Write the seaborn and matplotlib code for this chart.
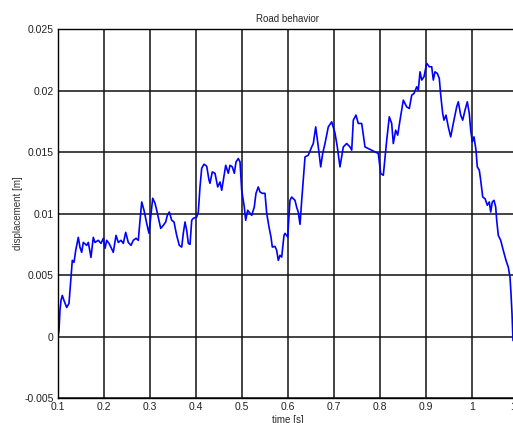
import numpy as np
import pandas as pd
import matplotlib
matplotlib.use("Agg")
import matplotlib.pyplot as plt
import matplotlib.ticker as mticker
import seaborn as sns

# values
time_s = [0.1000, 0.1022, 0.1043, 0.1065, 0.1093, 0.1130, 0.1189, 0.1239, 0.1283, 0.1311,
          0.1348, 0.1385, 0.1441, 0.1478, 0.1515, 0.1550, 0.1624, 0.1659, 0.1717, 0.1767,
          0.1804, 0.1876, 0.1935, 0.1985, 0.2022, 0.2059, 0.2109, 0.2152, 0.2202, 0.2261,
          0.2311, 0.2370, 0.2420, 0.2472, 0.2528, 0.2587, 0.2637, 0.2696, 0.2746, 0.2783,
          0.2820, 0.2870, 0.2928, 0.2978, 0.3015, 0.3059, 0.3109, 0.3146, 0.3202, 0.3233,
          0.3289, 0.3341, 0.3376, 0.3420, 0.3472, 0.3522, 0.3580, 0.3637, 0.3689, 0.3724,
          0.3761, 0.3798, 0.3833, 0.3870, 0.3907, 0.3941, 0.4015, 0.4050, 0.4087, 0.4124,
          0.4174, 0.4233, 0.4283, 0.4304, 0.4354, 0.4413, 0.4472, 0.4522, 0.4559, 0.4593,
          0.4646, 0.4702, 0.4739, 0.4789, 0.4833, 0.4870, 0.4920, 0.4957, 0.4993, 0.5050,
          0.5080, 0.5124, 0.5174, 0.5211, 0.5267, 0.5304, 0.5354, 0.5391, 0.5441, 0.5500,
          0.5537, 0.5587, 0.5630, 0.5659, 0.5717, 0.5754, 0.5789, 0.5826, 0.5863, 0.5913,
          0.5935, 0.5993, 0.6043, 0.6080, 0.6152, 0.6189, 0.6224, 0.6261, 0.6298, 0.6370,
          0.6441, 0.6515, 0.6550, 0.6602, 0.6659, 0.6711, 0.6754, 0.6804, 0.6876, 0.6950,
          0.7022, 0.7072, 0.7130, 0.7202, 0.7276, 0.7348, 0.7385, 0.7420, 0.7478, 0.7528,
          0.7602, 0.7674, 0.7746, 0.7820, 0.7891, 0.7963, 0.8015, 0.8072, 0.8146, 0.8202,
          0.8254, 0.8289, 0.8341, 0.8385, 0.8435, 0.8507, 0.8580, 0.8637, 0.8689, 0.8739,
          0.8798, 0.8833, 0.8870, 0.8907, 0.8957, 0.9015, 0.9072, 0.9124, 0.9159, 0.9196,
          0.9246, 0.9289, 0.9320, 0.9363, 0.9391, 0.9435, 0.9485, 0.9537, 0.9593, 0.9667,
          0.9702, 0.9754, 0.9798, 0.9848, 0.9898, 0.9941, 0.9972, 1.0007, 1.0043, 1.0087,
          1.0115, 1.0159, 1.0189, 1.0233, 1.0283, 1.0333, 1.0376, 1.0407, 1.0441, 1.0478,
          1.0515, 1.0537, 1.0572, 1.0624, 1.0680, 1.0739, 1.0789, 1.0826, 1.0848, 1.0870,
          1.0891]

# displacement in mm (converted to m below)
disp_mm = [0.00, 0.49, 2.12, 2.93, 3.34, 2.93, 2.36, 2.69, 4.80, 6.19,
           6.03, 7.00, 8.06, 7.25, 6.84, 7.65, 7.41, 7.65, 6.43, 8.06,
           7.65, 7.82, 7.57, 7.98, 7.17, 7.82, 7.57, 7.25, 6.84, 8.22,
           7.65, 7.82, 7.57, 8.47, 7.65, 7.41, 7.82, 7.98, 7.82, 9.45,
           10.94, 10.26, 9.20, 8.39, 9.71, 11.24, 10.83, 10.26, 9.31, 8.79,
           9.04, 9.31, 9.85, 10.12, 9.45, 9.31, 8.22, 7.41, 7.27, 8.39,
           9.31, 8.63, 7.57, 7.49, 9.45, 9.61, 9.71, 10.12, 12.16, 13.68,
           14.01, 13.84, 12.70, 12.46, 13.38, 13.27, 12.16, 12.56, 11.89, 12.70,
           13.92, 13.27, 13.92, 13.79, 13.27, 14.19, 14.47, 14.19, 11.89, 10.53,
           9.45, 10.26, 10.02, 9.85, 10.53, 11.64, 12.16, 11.75, 11.64, 11.64,
           10.02, 8.90, 8.09, 7.27, 7.33, 7.00, 6.19, 6.60, 6.46, 8.22,
           8.39, 8.09, 11.07, 11.34, 11.07, 10.50, 10.10, 9.12, 11.07, 14.60,
           14.74, 15.41, 15.69, 17.04, 15.41, 13.79, 14.88, 15.69, 17.04, 17.45,
           16.53, 15.41, 13.79, 15.41, 15.69, 15.41, 15.15, 17.59, 18.00, 17.32,
           17.32, 15.41, 15.28, 15.15, 15.01, 14.88, 13.25, 13.11, 15.96, 17.86,
           17.32, 15.69, 16.77, 16.37, 17.59, 19.22, 18.67, 18.54, 19.62, 19.76,
           20.30, 20.03, 21.52, 20.85, 21.12, 22.21, 21.93, 21.93, 20.85, 21.52,
           21.39, 20.98, 19.62, 18.13, 17.59, 18.00, 17.04, 16.23, 17.32, 18.67,
           19.08, 18.00, 17.59, 18.40, 19.08, 18.13, 16.77, 15.82, 16.23, 15.15,
           13.79, 13.52, 12.70, 11.34, 11.21, 10.67, 10.94, 10.12, 10.94, 11.07,
           10.53, 9.45, 8.22, 7.82, 7.00, 6.19, 5.64, 4.83, 3.48, 1.85,
           -0.33]

df = pd.DataFrame({"time": time_s, "disp": np.array(disp_mm) / 1000.0})

sns.set_style("white")
plt.rcParams['font.family'] = ['Liberation Sans', 'DejaVu Sans']

fig = plt.figure(figsize=(5.13, 4.23), dpi=100)
# axes run past the right edge, like the cropped original
ax = fig.add_axes([58 / 513, 25 / 423, 460 / 513, 369 / 423])

sns.lineplot(data=df, x="time", y="disp", ax=ax, sort=False, estimator=None,
             color=(0, 0, 1), linewidth=1.2)

ax.set_xlim(0.1, 1.1)
ax.set_ylim(-0.005, 0.025)
ax.set_xticks(np.arange(0.1, 1.15, 0.1))
ax.set_yticks([-0.005, 0, 0.005, 0.01, 0.015, 0.02, 0.025])
ax.xaxis.set_major_formatter(mticker.FormatStrFormatter('%g'))
ax.yaxis.set_major_formatter(mticker.FuncFormatter(lambda v, p: '%g' % round(v, 4)))
ax.grid(True, color='#111111', linewidth=1.1, linestyle='-')
ax.tick_params(direction='in', length=2, labelsize=7.5, colors='#222222', pad=3)
for s in ax.spines.values():
    s.set_color('black')
    s.set_linewidth(1.0)

ax.set_title('Road behavior', fontsize=7, pad=5)
ax.set_xlabel('time [s]', fontsize=7, labelpad=2)
ax.set_ylabel('displacement [m]', fontsize=7, labelpad=1, color='#333333')

fig.savefig('out.png', dpi=100)
